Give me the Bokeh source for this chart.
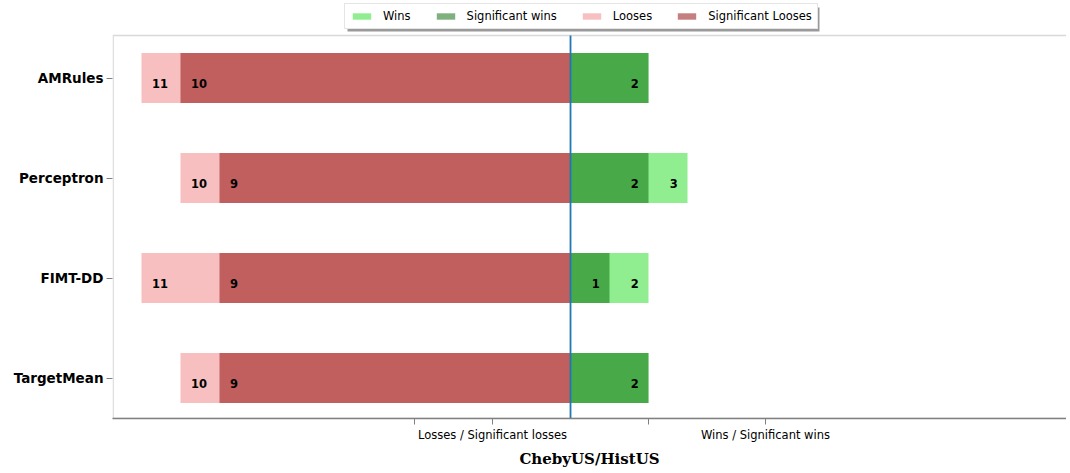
from bokeh.plotting import figure
from bokeh.models import Legend, LegendItem, FixedTicker, Range1d, ColumnDataSource, BoxAnnotation
from bokeh.core.properties import value
from bokeh.embed import file_html
from bokeh.resources import INLINE

methods = ["AMRules", "Perceptron", "FIMT-DD", "TargetMean"]
wins = [2, 3, 2, 2]
sig_wins = [2, 2, 1, 2]
losses = [11, 10, 11, 10]
sig_losses = [10, 9, 9, 9]
xtick_values = [-4, -2, 2, 5]
xtick_labels = ["", "Losses / Significant losses", "", "Wins / Significant wins"]
title_text = "ChebyUS/HistUS"

n = len(methods)
ys = [n - 1 - i for i in range(n)]

X0, X1 = -11.744, 12.718
Y0, YTOP, YCANVAS = -0.405, 3.425, 3.775

p = figure(width=1066, height=470, output_backend="svg", toolbar_location=None,
           x_range=Range1d(X0, X1), y_range=Range1d(Y0, YCANVAS),
           min_border_left=112, min_border_right=0, min_border_top=0, min_border_bottom=0)
p.outline_line_color = None
p.grid.visible = False

src = ColumnDataSource(dict(y=ys, wins=wins, sig_wins=sig_wins,
                            nl=[-v for v in losses], nsl=[-v for v in sig_losses]))

r_w = p.hbar(y="y", left=0, right="wins", height=0.5, source=src,
             fill_color="#90ee90", line_color=None)
r_sw = p.hbar(y="y", left=0, right="sig_wins", height=0.5, source=src,
              fill_color="darkgreen", fill_alpha=0.5, line_color=None)
r_l = p.hbar(y="y", left="nl", right=0, height=0.5, source=src,
             fill_color="lightcoral", fill_alpha=0.5, line_color=None)
r_sl = p.hbar(y="y", left="nsl", right=0, height=0.5, source=src,
              fill_color="darkred", fill_alpha=0.5, line_color=None)

# value labels
lx, ly, lt = [], [], []
for y, l, sl in zip(ys, losses, sig_losses):
    lx += [-l + 0.27, -sl + 0.27]
    ly += [y, y]
    lt += [str(l), str(sl)]
p.text(x=lx, y=ly, text=lt, text_align="left", text_baseline="middle", y_offset=5,
       text_font=value("DejaVu Sans"), text_font_style="bold", text_font_size="11.5px",
       text_color="black")
wx, wy, wt = [], [], []
for y, w, sw in zip(ys, wins, sig_wins):
    wx.append(w - 0.25); wy.append(y); wt.append(str(w))
    if sw != w:
        wx.append(sw - 0.25); wy.append(y); wt.append(str(sw))
p.text(x=wx, y=wy, text=wt, text_align="right", text_baseline="middle", y_offset=5,
       text_font=value("DejaVu Sans"), text_font_style="bold", text_font_size="11.5px",
       text_color="black")

# zero line, limited to the plotting box
p.segment(x0=[0], y0=[Y0], x1=[0], y1=[YTOP], line_color="#1f77b4", line_width=1.8)

# plot box border (left, top; bottom is the x axis)
p.add_layout(BoxAnnotation(left=X0 + 0.017, right=X1 + 5, bottom=Y0, top=YTOP,
                           fill_color=None, line_color="#808080", line_width=1.3,
                           level="underlay"))

# axes
p.yaxis.ticker = FixedTicker(ticks=ys)
p.yaxis.major_label_overrides = {y: m for y, m in zip(ys, methods)}
p.yaxis.major_label_text_font = "DejaVu Sans"
p.yaxis.major_label_text_font_style = "bold"
p.yaxis.major_label_text_font_size = "13.5px"
p.yaxis.major_label_text_color = "black"
p.yaxis.major_label_standoff = 3
p.yaxis.minor_tick_line_color = None
p.yaxis.major_tick_in = 0
p.yaxis.major_tick_out = 6
p.yaxis.axis_line_color = None

p.xaxis.ticker = FixedTicker(ticks=xtick_values)
p.xaxis.major_label_overrides = {v: t for v, t in zip(xtick_values, xtick_labels)}
p.xaxis.major_label_text_font = "DejaVu Sans"
p.xaxis.major_label_text_font_size = "11.5px"
p.xaxis.major_label_text_color = "black"
p.xaxis.major_label_standoff = 3
p.xaxis.minor_tick_line_color = None
p.xaxis.major_tick_in = 0
p.xaxis.major_tick_out = 6
p.xaxis.axis_label = title_text
p.xaxis.axis_label_text_font = "DejaVu Serif"
p.xaxis.axis_label_text_font_style = "bold"
p.xaxis.axis_label_text_font_size = "15px"
p.xaxis.axis_label_text_color = "black"
p.xaxis.axis_label_standoff = 5
p.xaxis.axis_line_color = "#808080"
p.xaxis.axis_line_width = 1.3

for ax in (p.xaxis, p.yaxis):
    ax.major_tick_line_color = "#808080"
    ax.major_tick_line_width = 1.0

# legend shadow
p.add_layout(BoxAnnotation(left=347, right=819, top=7, bottom=31,
                           left_units="canvas", right_units="canvas",
                           top_units="canvas", bottom_units="canvas",
                           fill_color="#9a9a9a", fill_alpha=1.0, line_color=None,
                           level="overlay"))

legend = Legend(items=[LegendItem(label="Wins", renderers=[r_w]),
                       LegendItem(label="Significant wins", renderers=[r_sw]),
                       LegendItem(label="Looses", renderers=[r_l]),
                       LegendItem(label="Significant Looses", renderers=[r_sl])],
                orientation="horizontal", location=(232, 389))
legend.label_text_font = "DejaVu Sans"
legend.label_text_font_size = "11.5px"
legend.label_text_color = "black"
legend.glyph_width = 23
legend.glyph_height = 8
legend.label_height = 14
legend.label_standoff = 10
legend.spacing = 23
legend.padding = 5
legend.margin = 0
legend.border_line_color = "#cccccc"
legend.border_line_width = 1
legend.background_fill_alpha = 1.0
legend.level = "overlay"
p.add_layout(legend, "center")

open("out.html", "w").write(file_html(p, INLINE))
